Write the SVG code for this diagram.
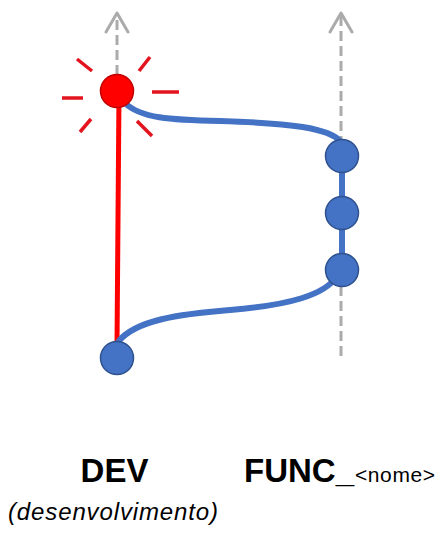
<svg xmlns="http://www.w3.org/2000/svg" width="448" height="533" viewBox="0 0 448 533">
<style>
.axis{stroke:#ABABAB;stroke-width:3;fill:none;stroke-dasharray:10 5}
.head{stroke:#ABABAB;stroke-width:3;fill:none;stroke-linecap:round;stroke-linejoin:round}
.blue{stroke:#4472C4;stroke-width:6;fill:none}
.red{stroke:#FF0000;stroke-width:5;fill:none}
.ray{stroke:#E3141E;stroke-width:3.5;stroke-linecap:butt}
.nb{fill:#4472C4;stroke:#2F528F;stroke-width:1.5}
.nr{fill:#FF0000;stroke:#C00000;stroke-width:1.5}
.t{font-family:"Liberation Sans",Arial,sans-serif;fill:#000}
</style>
<g id="axes">
<line class="axis" x1="117" y1="75" x2="117" y2="15"/>
<polyline class="head" points="106,32 117,13 128,32"/>
<line class="axis" x1="341" y1="356" x2="341" y2="15"/>
<polyline class="head" points="330,32 341,13 352,32"/>
</g>
<g id="connectors">
<line class="red" x1="119" y1="93" x2="117" y2="345"/>
<path class="blue" d="M125 103 C140 118 170 120 220 121 C290 123 330 128 341 142"/>
<path class="blue" d="M118 342 C135 320 180 314 230 310 C290 305 325 295 337 276"/>
<line class="blue" x1="342" y1="156" x2="342" y2="270" stroke-width="7"/>
</g>
<g id="rays">
<line class="ray" x1="62" y1="98" x2="83" y2="98"/>
<line class="ray" x1="152" y1="92" x2="179" y2="92"/>
<line class="ray" x1="77" y1="59" x2="92" y2="71"/>
<line class="ray" x1="150" y1="57" x2="139" y2="71"/>
<line class="ray" x1="91" y1="119" x2="80" y2="132"/>
<line class="ray" x1="137" y1="121" x2="152" y2="136"/>
</g>
<g id="node-dev-head"><circle class="nr" cx="117" cy="91" r="16.5"/></g>
<g id="node-dev-base"><circle class="nb" cx="117" cy="358" r="16.5"/></g>
<g id="node-func-1"><circle class="nb" cx="342" cy="156" r="16.5"/></g>
<g id="node-func-2"><circle class="nb" cx="342" cy="213" r="16.5"/></g>
<g id="node-func-3"><circle class="nb" cx="342" cy="270" r="16.5"/></g>
<g id="labels">
<text class="t" x="114.5" y="482" font-size="33" font-weight="bold" text-anchor="middle">DEV</text>
<text class="t" x="8" y="520" font-size="24" font-style="italic" textLength="210" lengthAdjust="spacing">(desenvolvimento)</text>
<text class="t" x="244" y="482" font-size="33" font-weight="bold">FUNC_</text>
<text class="t" x="355" y="482" font-size="21" textLength="80" lengthAdjust="spacing">&lt;nome&gt;</text>
</g>
</svg>
